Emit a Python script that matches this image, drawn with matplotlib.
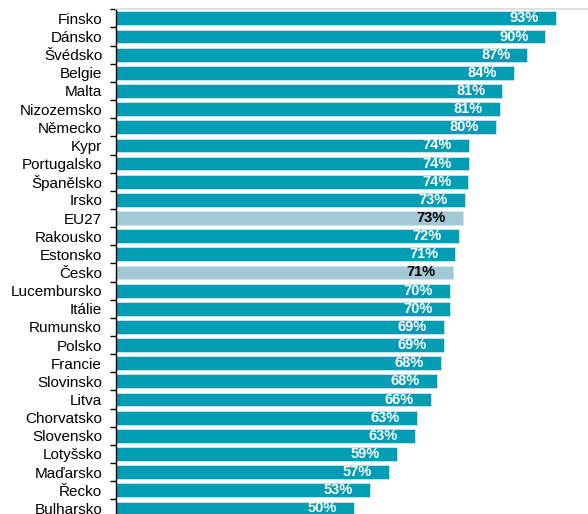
import matplotlib.pyplot as plt

plt.rcParams['font.family'] = ['Liberation Sans', 'DejaVu Sans']

# data (top to bottom)
countries = ["Finsko", "Dánsko", "Švédsko", "Belgie", "Malta", "Nizozemsko",
             "Německo", "Kypr", "Portugalsko", "Španělsko", "Irsko", "EU27",
             "Rakousko", "Estonsko", "Česko", "Lucembursko", "Itálie",
             "Rumunsko", "Polsko", "Francie", "Slovinsko", "Litva",
             "Chorvatsko", "Slovensko", "Lotyšsko", "Maďarsko", "Řecko",
             "Bulharsko"]
values = [92.6, 90.4, 86.6, 83.7, 81.3, 80.8,
          79.9, 74.3, 74.3, 74.2, 73.4, 73.0,
          72.2, 71.4, 70.9, 70.3, 70.3,
          69.1, 69.0, 68.4, 67.6, 66.3,
          63.4, 62.9, 59.2, 57.4, 53.4,
          50.0]
highlight = ["EU27", "Česko"]

teal = "#009db5"
light = "#a3c9d7"

fig = plt.figure(figsize=(5.88, 5.14), dpi=100)
n = len(countries)
row_px = 18.15
top_px = 9.3
h_px = n * row_px
ax = fig.add_axes([116 / 588, (514 - top_px - h_px) / 514, 472 / 588, h_px / 514])

ypos = list(range(n))
colors = [light if c in highlight else teal for c in countries]
ax.barh(ypos, values, height=0.76, color=colors, edgecolor="#cfe6ec", linewidth=0.6)

for y, v, c in zip(ypos, values, countries):
    tc = "black" if c in highlight else "white"
    ax.annotate(f"{round(v)}%", xy=(v, y), xytext=(-17, 0), textcoords="offset pixels",
                ha="right", va="center", fontsize=10.5, fontweight="bold", color=tc)

ax.set_ylim(n - 0.5, -0.5)
ax.set_xlim(0, 472 / 4.75)
ax.set_yticks(ypos)
ax.set_yticklabels(countries, fontsize=11)
ax.set_yticks([i - 0.5 for i in range(n + 1)], minor=True)
ax.tick_params(axis="y", which="major", length=0, pad=10)
ax.tick_params(axis="y", which="minor", length=4, width=1, color="black")
ax.xaxis.set_visible(False)

ax.spines["right"].set_visible(False)
ax.spines["bottom"].set_visible(False)
ax.spines["top"].set_color("#d9d9d9")
ax.spines["top"].set_linewidth(1.2)
ax.spines["left"].set_color("black")
ax.spines["left"].set_linewidth(1)

fig.savefig("out.png", dpi=100)
